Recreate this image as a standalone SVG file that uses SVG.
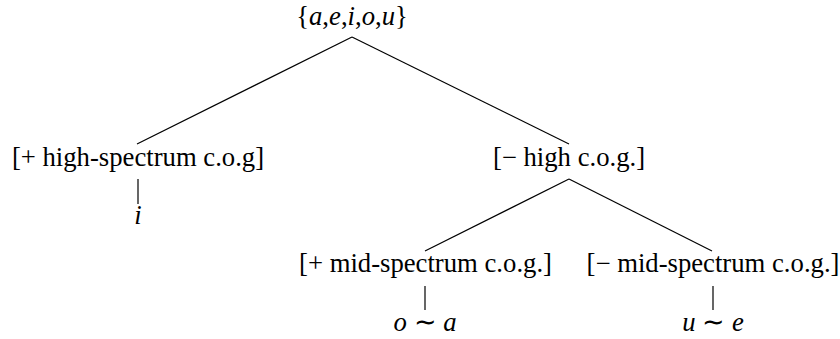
<svg xmlns="http://www.w3.org/2000/svg" width="840" height="339" viewBox="0 0 840 339">
<style>
text{font-family:"Liberation Serif","Times New Roman",serif;font-size:26.7px;fill:#000;text-anchor:middle}
.i{font-style:italic}
.c line{stroke:#000;stroke-width:1.2}
</style>
<rect width="840" height="339" fill="#fff"/>
<g class="c" id="connectors">
<line x1="352" y1="37" x2="137" y2="144"/>
<line x1="352" y1="37" x2="569" y2="144"/>
<line x1="138" y1="179" x2="138" y2="204"/>
<line x1="569" y1="179" x2="425" y2="251"/>
<line x1="569" y1="179" x2="712" y2="251"/>
<line x1="425" y1="286" x2="425" y2="310"/>
<line x1="713" y1="286" x2="713" y2="310"/>
</g>
<g id="root"><text x="352" y="25">{<tspan class="i">a</tspan>,<tspan class="i">e</tspan>,<tspan class="i">i</tspan>,<tspan class="i">o</tspan>,<tspan class="i">u</tspan>}</text></g>
<g id="high"><text x="138" y="166">[+ high-spectrum c.o.g]</text></g>
<g id="i"><text x="138" y="224" class="i">i</text></g>
<g id="nothigh"><text x="569" y="166">[− high c.o.g.]</text></g>
<g id="mid"><text x="425.5" y="272">[+ mid-spectrum c.o.g.]</text></g>
<g id="notmid"><text x="713" y="272">[− mid-spectrum c.o.g.]</text></g>
<g id="oa"><text x="425" y="331"><tspan class="i">o</tspan> ∼ <tspan class="i">a</tspan></text></g>
<g id="ue"><text x="713" y="331"><tspan class="i">u</tspan> ∼ <tspan class="i">e</tspan></text></g>
</svg>
